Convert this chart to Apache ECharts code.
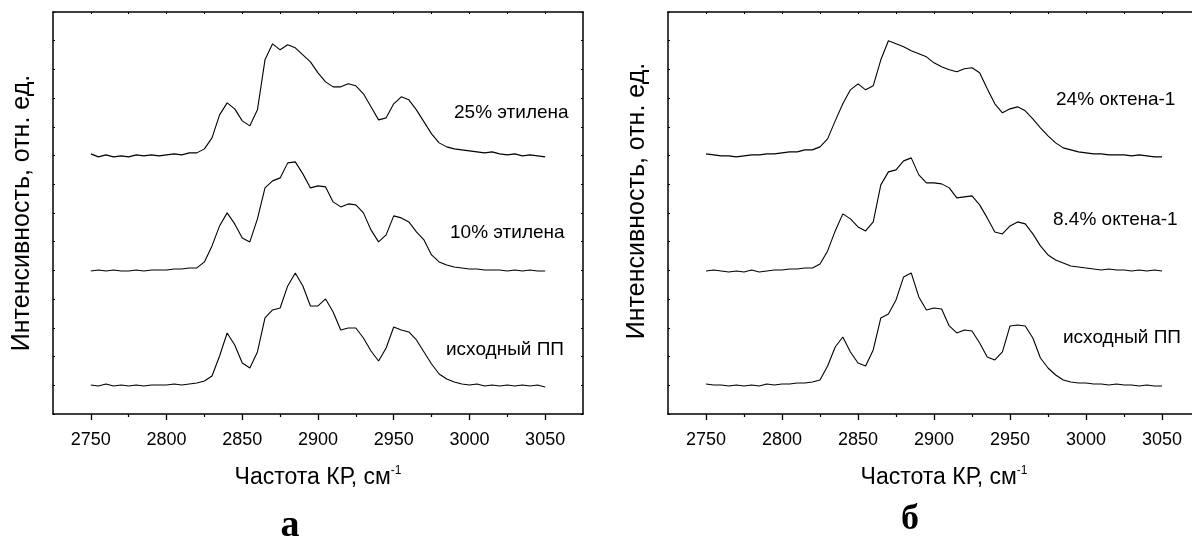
<!DOCTYPE html>
<html><head><meta charset="utf-8">
<script src="https://cdn.jsdelivr.net/npm/echarts@6/dist/echarts.min.js"></script>
<style>html,body{margin:0;padding:0;background:#fff}#c{width:1192px;height:539px}</style>
</head><body><div id="c"></div>
<script>
// Raman shift, cm-1
const wavenumbers = [2750,2755,2760,2765,2770,2775,2780,2785,2790,2795,2800,2805,2810,2815,2820,2825,2830,2835,2840,2845,2850,2855,2860,2865,2870,2875,2880,2885,2890,2895,2900,2905,2910,2915,2920,2925,2930,2935,2940,2945,2950,2955,2960,2965,2970,2975,2980,2985,2990,2995,3000,3005,3010,3015,3020,3025,3030,3035,3040,3045,3050];

// Panel a (ethylene copolymers), relative intensity incl. vertical offset
const ethylene25 = [260,257,259,257,258,257,259,258,259,258,259,260,259,261,261,265,276,299,311,305,293,288,304,354,370,364,369,366,359,352,341,332,327,327,330,328,320,307,294,296,310,317,314,304,292,280,271,267,265,264,263,262,261,262,260,259,260,258,259,258,257];
const ethylene10 = [143,144,143,144,143,143,144,143,144,144,144,145,145,146,146,152,168,188,201,190,176,172,195,226,233,236,251,252,240,226,228,227,212,207,210,209,201,184,172,179,198,196,192,182,174,159,152,149,147,146,145,145,144,144,144,143,144,143,144,143,143];
const ppA = [29,28,30,28,29,28,29,28,29,29,29,30,29,30,31,33,38,58,81,69,51,46,62,96,104,106,128,141,128,108,108,115,102,84,86,86,76,63,53,66,87,84,82,74,62,50,40,35,32,30,29,30,28,29,28,29,28,29,28,29,27];

// Panel б (octene-1 copolymers)
const octene24 = [260,259,258,258,257,258,259,259,260,260,261,262,262,264,264,267,275,293,310,324,330,324,328,354,373,370,367,363,360,357,351,347,344,342,345,346,341,325,310,301,305,307,303,295,286,278,271,266,264,262,261,260,260,259,259,259,258,259,258,257,257];
const octene84 = [143,144,143,142,143,142,144,142,143,144,144,145,145,146,146,150,163,183,200,195,187,183,192,229,242,244,253,256,239,231,231,230,226,216,217,218,209,196,182,180,188,192,190,180,168,159,154,151,148,147,146,145,144,145,144,144,143,144,143,144,143];
const ppB = [30,29,29,28,29,28,29,28,30,29,30,30,31,31,32,34,48,67,77,62,51,48,64,96,100,114,137,141,117,104,106,105,88,81,84,83,71,57,54,62,88,89,88,76,56,46,39,34,32,31,31,30,30,29,30,29,29,28,29,28,28];

const labelsA = ['25% этилена', '10% этилена', 'исходный ПП'];
const labelsB = ['24% октена-1', '8.4% октена-1', 'исходный ПП'];
const xTickValues = [2750,2800,2850,2900,2950,3000,3050];
const xMinorTickValues = [2775,2825,2875,2925,2975,3025];
const xFrameTickValues = [2750,2775,2800,2825,2850,2875,2900,2925,2950,2975,3000,3025,3050];
const xTitle = 'Частота КР, см';
const xTitleSup = '-1';
const yTitle = 'Интенсивность, отн. ед.';
const panelLetters = ['а', 'б'];

const FONT = '"Liberation Sans", Arial, sans-serif';
const BLACK = '#000';
const X_MIN = 2725, Y_MIN = 0, Y_MAX = 401.8, Y_STEP = 28.7;

function xAxes(gi, xMax, namePad) {
  return [
    { type:'value', gridIndex:gi, position:'bottom', min:X_MIN, max:xMax,
      axisLine:{show:true, onZero:false, lineStyle:{color:BLACK, width:1.5}},
      axisTick:{show:true, inside:false, length:6, customValues:xTickValues, lineStyle:{color:BLACK, width:1.3}},
      axisLabel:{show:true, customValues:xTickValues, color:BLACK, fontSize:18, fontFamily:FONT, margin:17,
        formatter:(v)=>String(v)},
      splitLine:{show:false},
      name: '{t|' + xTitle + '}{s|' + xTitleSup + '}', nameLocation:'middle', nameGap:51,
      nameTextStyle:{ padding:namePad, rich:{ t:{fontSize:23, fontFamily:FONT, color:BLACK}, s:{fontSize:12, fontFamily:FONT, color:BLACK, padding:[0,0,13,0]} } }
    },
    { type:'value', gridIndex:gi, position:'bottom', min:X_MIN, max:xMax,
      axisLine:{show:false, onZero:false},
      axisTick:{show:true, inside:false, length:3, customValues:xMinorTickValues, lineStyle:{color:BLACK, width:1.2}},
      axisLabel:{show:false}, splitLine:{show:false}
    },
    { type:'value', gridIndex:gi, position:'top', min:X_MIN, max:xMax,
      axisLine:{show:true, onZero:false, lineStyle:{color:BLACK, width:1.5}},
      axisTick:{show:true, inside:true, length:2, customValues:xFrameTickValues, lineStyle:{color:BLACK, width:1}},
      axisLabel:{show:false}, splitLine:{show:false}
    }
  ];
}
function yAxes(gi, namePad, showRight) {
  const base = { type:'value', gridIndex:gi, min:Y_MIN, max:Y_MAX, interval:Y_STEP,
    axisLabel:{show:false}, splitLine:{show:false},
    axisTick:{show:true, inside:true, length:2, lineStyle:{color:BLACK, width:1}},
    axisLine:{show:true, onZero:false, lineStyle:{color:BLACK, width:1.5}} };
  return [
    Object.assign({}, base, { position:'left', name:yTitle, nameLocation:'middle', nameRotate:90, nameGap:18,
      nameTextStyle:{fontSize:25, fontFamily:FONT, color:BLACK, padding:namePad} }),
    Object.assign({}, base, { position:'right', show:showRight })
  ];
}
function line(arr, xi, yi) {
  return { type:'line', xAxisIndex:xi, yAxisIndex:yi, data: wavenumbers.map((w,i)=>[w, arr[i]]),
    showSymbol:false, symbol:'none', silent:true, animation:false,
    lineStyle:{color:BLACK, width:1.1}, itemStyle:{color:BLACK} };
}
function annot(text, x, y) {
  return { type:'text', x:x, y:y, silent:true,
    style:{ text:text, fill:BLACK, font:'19px ' + FONT, verticalAlign:'middle', align:'left' } };
}

const chart = echarts.init(document.getElementById('c'), null, {renderer:'canvas'});
chart.setOption({
  backgroundColor:'#fff',
  animation:false,
  grid:[
    { left:53, top:12, width:530, height:402, containLabel:false },
    { left:668, top:12, width:524, height:402, containLabel:false }
  ],
  xAxis: xAxes(0, 3075, [0,0,0,0]).concat(xAxes(1, 3069.7, [0,0,0,28])),
  yAxis: yAxes(0, [0,0,0,0], true).concat(yAxes(1, [0,0,0,24], false)),
  series:[
    line(ethylene25, 0, 0), line(ethylene10, 0, 0), line(ppA, 0, 0),
    line(octene24, 3, 2), line(octene84, 3, 2), line(ppB, 3, 2)
  ],
  graphic:[
    annot(labelsA[0], 454, 113), annot(labelsA[1], 450, 233), annot(labelsA[2], 446, 350),
    annot(labelsB[0], 1056, 100), annot(labelsB[1], 1053, 220), annot(labelsB[2], 1063, 338),
    { type:'text', x:290, y:526, silent:true, style:{ text:panelLetters[0], fill:BLACK, font:'bold 38px "Liberation Serif", "Times New Roman", serif', align:'center', verticalAlign:'middle' } },
    { type:'text', x:910, y:520, silent:true, style:{ text:panelLetters[1], fill:BLACK, font:'bold 36px "Liberation Serif", "Times New Roman", serif', align:'center', verticalAlign:'middle' } }
  ]
});
</script></body></html>
